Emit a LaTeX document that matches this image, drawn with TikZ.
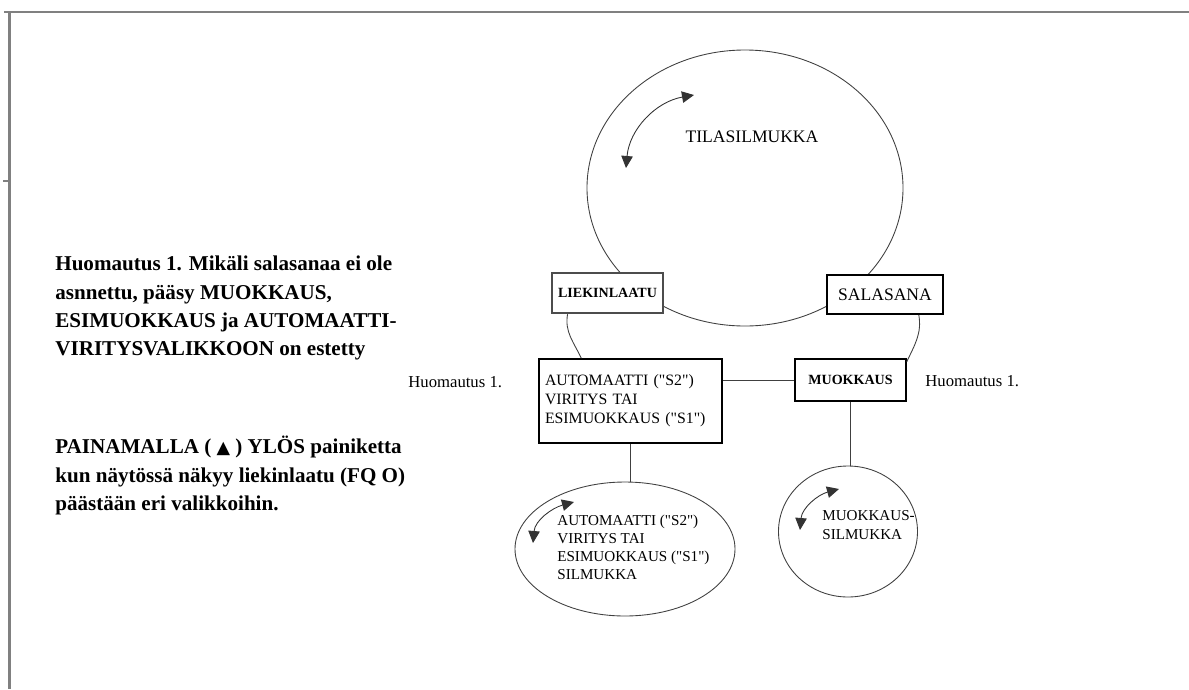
\documentclass[tikz,border=0pt]{standalone}
\usepackage{fontspec}
\setmainfont{Liberation Serif}
\newfontfamily\symfont{DejaVu Sans}
\usetikzlibrary{shapes.geometric,arrows.meta}

\begin{document}
\begin{tikzpicture}[x=0.2mm,y=-0.2mm,
	kehys/.style={draw=black!50,line width=1.7pt},
	silmukka/.style={draw=black!75,ellipse,line width=0.5pt,inner sep=0pt},
	laatikko/.style={draw,line width=0.9pt,fill=white,inner sep=0pt},
	kaari/.style={draw=black!75,line width=0.5pt},
	nuoli/.style={draw=black!80,line width=0.5pt,{Triangle[length=2.4mm,width=2.3mm]}-{Triangle[length=2.4mm,width=2.3mm]}},
	teksti/.style={font=\fontsize{9}{10.8}\selectfont,align=left,inner sep=0pt},
	huom/.style={font=\fontsize{12}{16}\selectfont\bfseries,align=left,inner sep=0pt,anchor=north west}]
	
	\useasboundingbox (0,0) rectangle (1189,689);
	% kehys
	\draw[kehys] (4,12) -- (1189,12);
	\draw[kehys] (9.5,12) -- (9.5,689);
	\draw[kehys] (3,181) -- (9.5,181);
	
	% silmukat
	\node[silmukka,minimum width=6.32cm,minimum height=5.52cm] (tila) at (745,188) {};
	\node[silmukka,minimum width=4.4cm,minimum height=2.68cm] (autosilm) at (625,549) {};
	\node[silmukka,minimum width=2.78cm,minimum height=2.62cm] (muoksilm) at (848,531.5) {};
	
	% valikot
	\node[laatikko,line width=1.4pt,draw=black!70,minimum width=2.22cm,minimum height=0.8cm,font=\fontsize{8}{9}\selectfont\bfseries] (liek) at (607.5,293) {LIEKINLAATU};
	\node[laatikko,minimum width=2.32cm,minimum height=0.78cm,font=\fontsize{10}{12}\selectfont] (sala) at (885,294.5) {SALASANA};
	\node[laatikko,teksti,text width=3.42cm,minimum width=3.66cm,minimum height=1.68cm] (auto) at (630.5,401) {AUTOMAATTI (\textquotedbl S2\textquotedbl)\\VIRITYS TAI\\ESIMUOKKAUS (\textquotedbl S1\textquotedbl)};
	\node[laatikko,minimum width=2.22cm,minimum height=0.84cm,font=\fontsize{8}{9}\selectfont\bfseries] (muok) at (850.5,380) {MUOKKAUS};
	
	% yhteydet
	\draw[kaari] (liek.208) to[out=-100,in=115] (auto.139);
	\draw[kaari] (sala.-31) to[out=-80,in=65] (muok.18);
	\draw[kaari] (muok.west) -- (muok.west -| auto.east);
	\draw[kaari] (auto.south) -- (auto.south |- autosilm.north);
	\draw[kaari] (muok.south) -- (muok.south |- muoksilm.north);
	
	% nuolet
	\coordinate (t1) at (626,168);
	\coordinate (t2) at (694,95);
	\coordinate (a1) at (533,543);
	\coordinate (a2) at (574,502);
	\coordinate (m1) at (800,530);
	\coordinate (m2) at (839,489);
	\draw[nuoli] (t1) to[out=85,in=190] (t2);
	\draw[nuoli] (a1) to[out=85,in=195] (a2);
	\draw[nuoli] (m1) to[out=85,in=195] (m2);
	
	% tekstit
	\node[teksti,font=\fontsize{10}{12}\selectfont] (tilateksti) at (752,137) {TILASILMUKKA};
	\node[teksti,anchor=west,font=\fontsize{8.6}{10.2}\selectfont] (autoteksti) at (557,547) {AUTOMAATTI (\textquotedbl S2\textquotedbl)\\VIRITYS TAI\\ESIMUOKKAUS (\textquotedbl S1\textquotedbl)\\SILMUKKA};
	\node[teksti,anchor=west,font=\fontsize{8.6}{10.6}\selectfont] (muokteksti) at (822,525) {MUOKKAUS-\\SILMUKKA};
	\node[teksti,anchor=west,font=\fontsize{9.5}{10}\selectfont] (huomv) at (408,382) {Huomautus 1.};
	\node[teksti,anchor=west,font=\fontsize{9.5}{10}\selectfont] (huomo) at (925,381) {Huomautus 1.};
	\node[huom] (huomautus) at (55,256) {Huomautus 1. Mikäli salasanaa ei ole\\asnnettu, pääsy MUOKKAUS,\\ESIMUOKKAUS ja AUTOMAATTI-\\VIRITYSVALIKKOON on estetty};
	\node[huom] (painamalla) at (55,436) {PAINAMALLA ( {\symfont\fontsize{10}{12}\selectfont ▲} ) YLÖS painiketta\\kun näytössä näkyy liekinlaatu (FQ O)\\päästään eri valikkoihin.};
\end{tikzpicture}
\end{document}
